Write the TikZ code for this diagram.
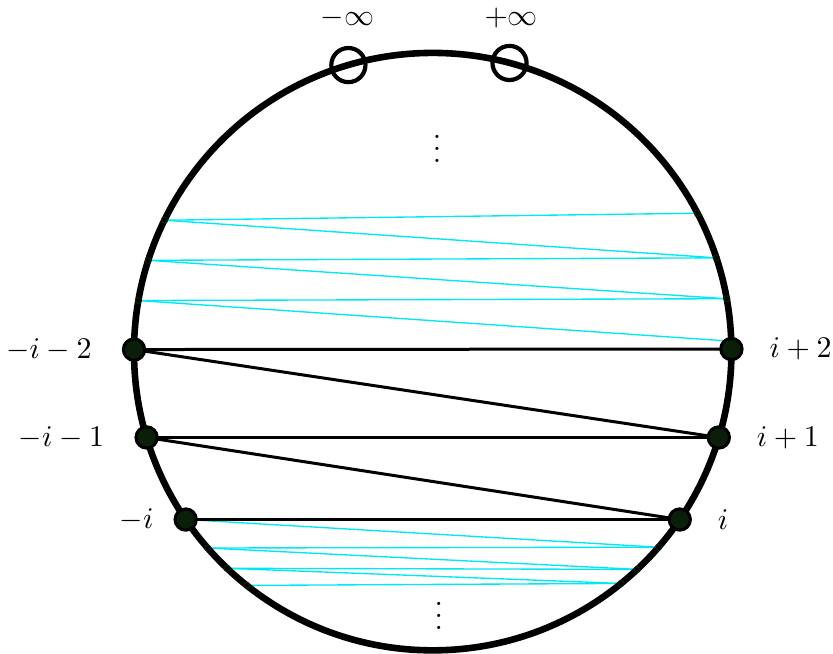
\documentclass[tikz,border=0pt]{standalone}
\usepackage{amsmath,amssymb}
\usepackage{tikz}
\usetikzlibrary{positioning,calc}
\usepackage{xcolor}
\definecolor{dotgreen}{RGB}{10,30,10}
\definecolor{chordcyan}{RGB}{0,232,245}

\begin{document}
\begin{tikzpicture}[
    chord/.style={chordcyan,line width=0.45pt},
    link/.style={black,line width=1pt},
    vertex/.style={circle,draw=black,fill=dotgreen,line width=1pt,minimum size=0.25cm,inner sep=0pt},
    endpt/.style={circle,draw=dotgreen,line width=0.4pt,minimum size=0.07cm,inner sep=0pt},
    infty/.style={circle,draw=black,line width=1.4pt,minimum size=0.4cm,inner sep=0pt}]
\useasboundingbox (-5.07,-3.54) rectangle (4.69,4.12);

% points on the circle
\coordinate (m2) at (179.6:3.5);
\coordinate (p2) at (0.5:3.5);
\coordinate (m1) at (196.7:3.5);
\coordinate (p1) at (-16.7:3.5);
\coordinate (m0) at (214.2:3.5);
\coordinate (p0) at (-34.2:3.5);

% upper cyan chords
\foreach \a [count=\k] in {153.9,162.2,170.15} { \coordinate (ul\k) at (\a:3.5); }
\foreach \a [count=\k] in {27.6,18.3,10.2,2} { \coordinate (ur\k) at (\a:3.5); }
\foreach \k in {1,2,3} {
    \pgfmathtruncatemacro{\nk}{\k+1}
    \draw[chord] (ul\k) -- (ur\k);
    \draw[chord] (ul\k) -- (ur\nk);
}

% lower cyan chords
\coordinate (ll0) at (m0);
\foreach \a [count=\k] in {221.1,226.5,231.5} { \coordinate (ll\k) at (\a:3.5); }
\foreach \a [count=\k] in {-40.9,-46.8,-50.9} { \coordinate (lr\k) at (\a:3.5); }
\foreach \k in {1,2,3} {
    \pgfmathtruncatemacro{\pk}{\k-1}
    \draw[chord] (ll\pk) -- (lr\k);
    \draw[chord] (ll\k) -- (lr\k);
}

% the circle
\draw[line width=2.2pt] (0,0) circle (3.5);

% black chords
\draw[link] (m2) -- (p2);
\draw[link] (m2) -- (p1);
\draw[link] (m1) -- (p1);
\draw[link] (m1) -- (p0);
\draw[link] (m0) -- (p0);

% small ends
\foreach \k in {1,2,3} { \node[endpt] at (ul\k) {}; \node[endpt] at (ur\k) {}; }
\foreach \k in {1,2,3} { \node[endpt] at (ll\k) {}; \node[endpt] at (lr\k) {}; }

% vertices
\node[vertex] (vm2) at (m2) {};
\node[vertex] (vp2) at (p2) {};
\node[vertex] (vm1) at (m1) {};
\node[vertex] (vp1) at (p1) {};
\node[vertex] (vm0) at (m0) {};
\node[vertex] (vp0) at (p0) {};

\node[left=0.23cm of vm2] (lm2) {$-i-2$};
\node[left=0.23cm of vm1] (lm1) {$-i-1$};
\node[left=0.11cm of vm0] (lm0) {$-i$};
\node[right=0.18cm of vp2] (lp2) {$i+2$};
\node[right=0.18cm of vp1] (lp1) {$i+1$};
\node[right=0.18cm of vp0] (lp0) {$i$};

% points at infinity
\node[infty] (minf) at (106.4:3.5) {};
\node[infty] (pinf) at (75.1:3.5) {};
\node (lminf) at (-1.0,3.91) {$-\infty$};
\node (lpinf) at (0.92,3.91) {$+\infty$};

\node (dtop) at (0.05,2.48) {$\vdots$};
\node (dbot) at (0.07,-2.99) {$\vdots$};

\end{tikzpicture}
\end{document}
